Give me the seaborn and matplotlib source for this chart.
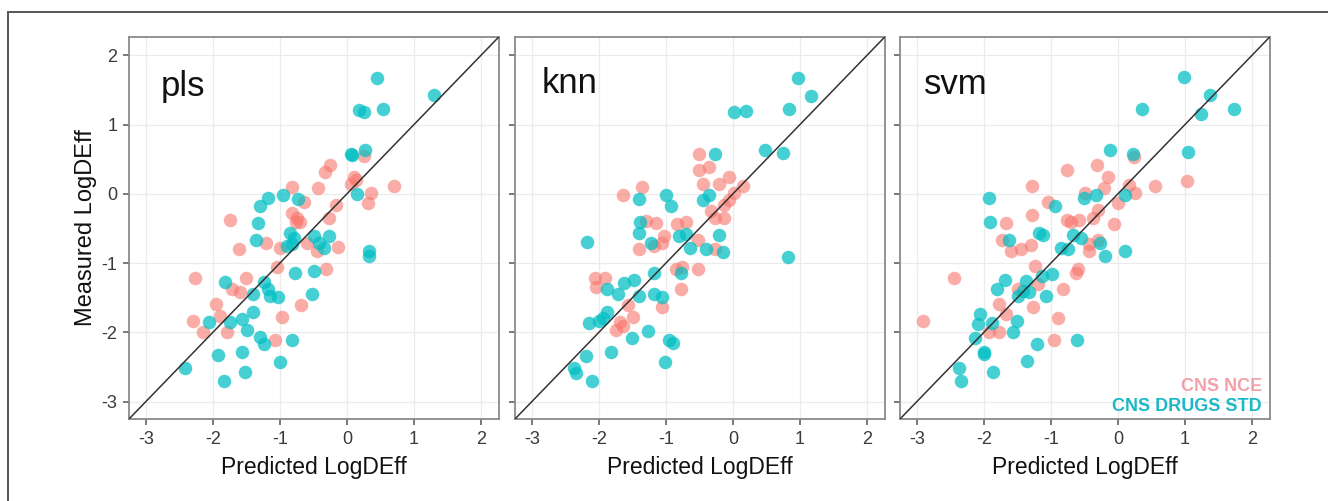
import pandas as pd
import matplotlib.pyplot as plt
import matplotlib.patches as patches
import seaborn as sns

# Values (Predicted, Measured LogDEff)
pls_std_pred = [0.45, 1.30, 0.175, 0.26, 0.535, 0.06, 0.08, 0.27, 0.15, 0.335, 0.335, -0.95,
                -1.175, -1.29, -0.735, -1.325, -1.35, -0.85, -0.79, -0.89, -0.825, -0.49, -0.415,
                -0.265, -0.34, -0.77, -0.485, -0.52, -1.825, -1.23, -1.175, -1.4, -1.15, -1.025,
                -1.74, -1.565, -1.40, -2.055, -1.49, -1.29, -1.24, -0.825, -1.915, -1.565, -1.525,
                -1.84, -2.415, -0.99]
pls_std_meas = [1.68, 1.43, 1.21, 1.18, 1.22, 0.58, 0.56, 0.63, 0.0, -0.83, -0.90, -0.02,
                -0.06, -0.18, -0.08, -0.42, -0.67, -0.57, -0.63, -0.75, -0.73, -0.61, -0.71,
                -0.61, -0.78, -1.14, -1.12, -1.45, -1.27, -1.27, -1.37, -1.45, -1.47, -1.49,
                -1.85, -1.80, -1.71, -1.85, -1.97, -2.07, -2.16, -2.11, -2.32, -2.28, -2.57,
                -2.70, -2.51, -2.42]
pls_nce_pred = [0.71, 0.11, 0.06, 0.14, -0.25, -0.325, -0.425, -0.815, -0.64, -0.815, -0.74, -0.70,
                -0.765, -0.165, -0.265, 0.36, 0.32, -1.74, -1.615, -1.205, -0.99, -0.59, -0.44,
                -0.125, -1.04, -0.31, -2.265, -1.505, -1.715, -1.6, -0.69, -1.95, -1.89, -2.3,
                -0.965, -2.15, -1.79, -1.075, 0.25]
pls_nce_meas = [0.11, 0.25, 0.15, 0.20, 0.42, 0.32, 0.08, 0.10, -0.12, -0.28, -0.35, -0.41,
                -0.40, -0.16, -0.35, 0.01, -0.13, -0.38, -0.80, -0.71, -0.78, -0.71, -0.83,
                -0.76, -1.05, -1.09, -1.22, -1.21, -1.37, -1.41, -1.61, -1.59, -1.76, -1.83,
                -1.78, -2.0, -2.0, -2.11, 0.55]

knn_std_pred = [0.965, 1.163, 0.842, 0.012, 0.2, 0.48, 0.753, -0.269, -1.0, -0.916, -1.405, -0.358,
                -0.442, -1.38, -1.405, -1.22, -0.8, -0.70, -0.64, -0.4, -0.21, -0.146, 0.817,
                -2.175, -1.17, -1.47, -1.63, -1.874, -1.716, -1.395, -1.18, -1.05, -0.778, -1.874,
                -2.146, -1.99, -1.94, -1.504, -1.26, -0.95, -0.90, -2.195, -1.825, -1.01, -2.373,
                -2.34, -2.096]
knn_std_meas = [1.68, 1.42, 1.22, 1.18, 1.20, 0.64, 0.59, 0.57, -0.01, -0.18, -0.08, -0.01,
                -0.09, -0.41, -0.57, -0.71, -0.61, -0.58, -0.78, -0.79, -0.60, -0.84, -0.91,
                -0.69, -1.14, -1.24, -1.28, -1.37, -1.44, -1.47, -1.45, -1.49, -1.14, -1.71,
                -1.86, -1.83, -1.79, -2.08, -1.98, -2.11, -2.15, -2.34, -2.28, -2.42, -2.52,
                -2.58, -2.70]
knn_nce_pred = [-0.506, -0.506, -0.358, -0.062, -0.442, -0.21, 0.15, 0.012, -0.062, -0.136, -1.64,
                -1.355, -0.333, -0.259, -0.136, -1.30, -1.15, -0.837, -0.70, -1.02, -1.05, -1.17,
                -1.395, -0.516, -0.259, -0.852, -0.753, -0.516, -0.778, -2.06, -1.90, -2.04,
                -1.568, -1.494, -1.69, -1.74, -1.64, -1.05]
knn_nce_meas = [0.57, 0.34, 0.39, 0.25, 0.15, 0.15, 0.11, 0.01, -0.09, -0.16, -0.01,
                0.10, -0.25, -0.35, -0.35, -0.39, -0.42, -0.43, -0.40, -0.61, -0.71, -0.75,
                -0.80, -0.67, -0.79, -1.09, -1.05, -1.09, -1.37, -1.21, -1.21, -1.35,
                -1.60, -1.78, -1.85, -1.97, -1.91, -1.64]

svm_std_pred = [0.99, 1.376, 1.24, 1.74, 0.353, 1.04, -0.11, 0.23, -1.927, -1.907, -0.944, -0.505,
                -0.32, 0.114, -1.62, -1.17, -1.12, -0.67, -0.545, -0.854, -0.745, -0.27, -0.195,
                0.114, -0.98, -1.13, -1.68, -1.80, -1.37, -1.41, -1.49, -1.32, -1.07, -2.06,
                -2.08, -1.88, -1.50, -1.57, -2.13, -2.0, -1.99, -1.20, -0.61, -1.36, -1.87,
                -2.37, -2.34]
svm_std_meas = [1.69, 1.43, 1.16, 1.22, 1.22, 0.61, 0.64, 0.57, -0.06, -0.41, -0.18, -0.06,
                -0.02, -0.01, -0.67, -0.56, -0.59, -0.60, -0.63, -0.78, -0.80, -0.71, -0.90,
                -0.83, -1.15, -1.18, -1.24, -1.37, -1.26, -1.40, -1.47, -1.42, -1.47, -1.73,
                -1.88, -1.86, -1.83, -2.0, -2.08, -2.28, -2.31, -2.16, -2.11, -2.41, -2.57,
                -2.52, -2.70]
svm_nce_pred = [1.03, 0.553, 0.243, -0.305, -0.76, -0.146, -0.206, 0.164, 0.253, 0.004, -0.495,
                -1.28, -1.04, -1.28, -1.67, -0.755, -0.705, -0.58, -0.37, -0.056, -0.295, -1.73,
                -1.59, -1.45, -1.29, -0.435, -0.435, -0.295, -2.45, -1.23, -0.595, -0.62, -0.82,
                -1.19, -1.49, -1.77, -1.27, -1.67, -0.90, -2.905, -1.92, -1.77, -0.955]
svm_nce_meas = [0.18, 0.11, 0.53, 0.42, 0.34, 0.25, 0.08, 0.13, 0.01, -0.13, 0.01,
                0.11, -0.11, -0.30, -0.42, -0.37, -0.40, -0.37, -0.35, -0.43, -0.23, -0.66,
                -0.83, -0.79, -0.74, -0.73, -0.83, -0.66, -1.21, -1.04, -1.09, -1.14, -1.37,
                -1.30, -1.37, -1.59, -1.64, -1.73, -1.79, -1.83, -2.0, -2.0, -2.11]

models = ["pls", "knn", "svm"]
groups = ["CNS NCE", "CNS DRUGS STD"]
ticks = [-3, -2, -1, 0, 1, 2]

series = {
    "pls": [(pls_nce_pred, pls_nce_meas), (pls_std_pred, pls_std_meas)],
    "knn": [(knn_nce_pred, knn_nce_meas), (knn_std_pred, knn_std_meas)],
    "svm": [(svm_nce_pred, svm_nce_meas), (svm_std_pred, svm_std_meas)],
}

rows = []
for m in models:
    for g, (xs, ys) in zip(groups, series[m]):
        for x, y in zip(xs, ys):
            rows.append({"model": m, "group": g, "Predicted": x, "Measured": y})
df = pd.DataFrame(rows)

sns.set_style("white")
plt.rcParams["font.family"] = ["Liberation Sans", "DejaVu Sans"]
plt.rcParams["axes.unicode_minus"] = False

palette = {"CNS NCE": "#F8766D", "CNS DRUGS STD": "#00BFC4"}
alphas = {"CNS NCE": 0.6, "CNS DRUGS STD": 0.72}

fig = plt.figure(figsize=(13.28, 5.01), dpi=100)
lefts = [129, 515, 900]
label_pos = {"pls": (-2.78, 1.42), "knn": (-2.85, 1.46), "svm": (-2.89, 1.44)}
lims = (-3.25, 2.27)

for i, m in enumerate(models):
    ax = fig.add_axes([lefts[i] / 1328, 1 - 419 / 501, 370 / 1328, 382.3 / 501])
    sub = df[df["model"] == m]
    for g in groups:
        sns.scatterplot(data=sub[sub["group"] == g], x="Predicted", y="Measured",
                        color=palette[g], alpha=alphas[g], s=95, linewidth=0,
                        ax=ax, legend=False, zorder=3)
    ax.axline((0, 0), slope=1, color="#333333", lw=1.1, zorder=4)
    ax.set_xlim(lims)
    ax.set_ylim(lims)
    ax.set_xticks(ticks)
    ax.set_yticks(ticks)
    ax.grid(True, color="#EBEBEB", lw=0.9, zorder=0)
    for sp in ax.spines.values():
        sp.set_color("#8A8A8A")
        sp.set_linewidth(1.3)
    ax.tick_params(axis="both", length=4.5, width=1.1, color="#555555",
                   labelsize=13, labelcolor="#3A3A3A", pad=4, bottom=True, left=True)
    ax.set_xlabel("Predicted LogDEff", fontsize=16.5, color="#111111", labelpad=6)
    if i == 0:
        ax.set_ylabel("Measured LogDEff", fontsize=17, color="#111111", labelpad=3)
    else:
        ax.set_ylabel("")
        ax.set_yticklabels([])
    tx, ty = label_pos[m]
    ax.text(tx, ty, m, fontsize=25, color="#111111", ha="left", va="baseline", zorder=5)

ax.text(0.978, 0.074, "CNS NCE", transform=ax.transAxes, ha="right", va="baseline",
        fontsize=13, fontweight="bold", color="#F4A0A8")
ax.text(0.978, 0.022, "CNS DRUGS STD", transform=ax.transAxes, ha="right", va="baseline",
        fontsize=13, fontweight="bold", color="#1CB8C8")

# outer frame of the picture
fig.patches.append(patches.Rectangle((8 / 1328, -0.1), 1.1, 1.1 - 12 / 501,
                                     transform=fig.transFigure, fill=False,
                                     edgecolor="#555555", lw=1.4))

fig.savefig("out.png", dpi=100)
